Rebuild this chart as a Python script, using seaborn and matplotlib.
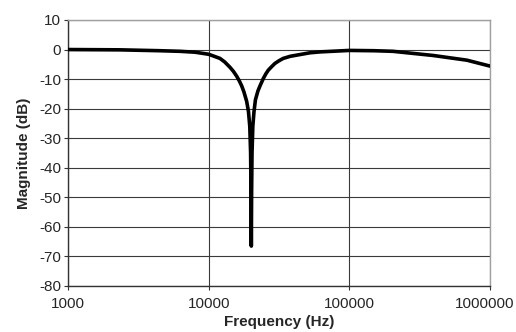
import matplotlib
matplotlib.use("Agg")
import matplotlib.pyplot as plt
import matplotlib.transforms as mtransforms
import pandas as pd
import seaborn as sns

# values
FREQ_HZ = [
    1000, 2340, 4510, 6250, 8000, 10000, 12030, 13000, 14170, 15000,
    15810, 16550, 17170, 17800, 18620, 19190, 19600, 19870, 20000, 20100,
    20200, 20330, 20600, 21000, 21500, 22400, 23170, 24460, 25520, 26520,
    28020, 29590, 31600, 33900, 37900, 42170, 52450, 61790, 100000, 150000,
    204000, 393000, 685000, 1000000,
]
MAG_DB = [
    0.0, -0.1, -0.4, -0.6, -0.9, -1.6, -3.0, -4.2, -6.0, -7.4,
    -9.0, -10.7, -12.3, -14.3, -17.5, -21.0, -26.0, -35.0, -48.0, -66.5,
    -48.0, -35.0, -26.0, -21.0, -17.0, -14.0, -12.3, -9.8, -8.2, -7.0,
    -5.8, -4.7, -3.8, -3.0, -2.3, -1.9, -1.1, -0.8, -0.3, -0.4,
    -0.6, -2.0, -3.6, -5.6,
]
X_TICKS = [1000, 10000, 100000, 1000000]
X_TICK_LABELS = ["1000", "10000", "100000", "1000000"]
Y_TICKS = list(range(-80, 11, 10))


def main() -> None:
    sns.set_style("white")
    plt.rcParams["font.family"] = ["Liberation Sans", "DejaVu Sans"]
    plt.rcParams["axes.unicode_minus"] = False

    df = pd.DataFrame({"freq": FREQ_HZ, "mag": MAG_DB})

    fig = plt.figure(figsize=(5.16, 3.32), dpi=100)
    ax = fig.add_axes([0.1318, 0.1386, 0.8178, 0.8012])
    sns.lineplot(data=df, x="freq", y="mag", ax=ax, color="black",
                 linewidth=2.6, sort=False, zorder=3)

    ax.set_xscale("log")
    ax.set_xlim(1000, 1000000)
    ax.set_ylim(-80, 10)
    ax.set_xticks(X_TICKS, labels=X_TICK_LABELS)
    ax.set_yticks(Y_TICKS)
    ax.minorticks_off()

    ax.grid(True, color="#3a3a3a", linewidth=0.8)
    ax.set_axisbelow(True)
    ax.tick_params(axis="both", which="major", direction="out", length=3,
                   width=0.8, color="#333333", labelsize=11,
                   left=True, bottom=True)
    ax.tick_params(axis="x", pad=5)
    ax.tick_params(axis="y", pad=2)

    # last x label sits on the figure edge, nudge it inside
    last = ax.get_xticklabels()[-1]
    last.set_transform(last.get_transform()
                       + mtransforms.ScaledTranslation(-5 / 100, 0, fig.dpi_scale_trans))

    for side in ["left", "bottom"]:
        ax.spines[side].set_color("#333333")
        ax.spines[side].set_linewidth(1.0)
    for side in ["top", "right"]:
        ax.spines[side].set_color("#a0a0a0")
        ax.spines[side].set_linewidth(1.0)

    ax.set_xlabel("Frequency (Hz)", fontsize=11, fontweight="bold", labelpad=3)
    ax.set_ylabel("Magnitude (dB)", fontsize=11, fontweight="bold", labelpad=6)

    fig.savefig("out.png", dpi=100)
    plt.close(fig)


if __name__ == "__main__":
    main()
